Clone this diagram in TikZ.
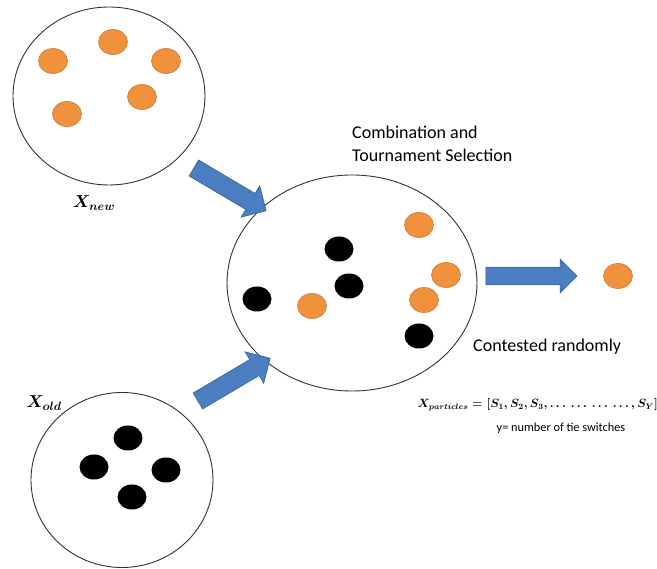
\documentclass[tikz,border=0pt]{standalone}
\usepackage{fontspec}
\setmainfont{Carlito}
\usetikzlibrary{shapes.geometric,shapes.arrows}
\definecolor{dotorange}{HTML}{F0913C}
\definecolor{dotedge}{HTML}{D07830}
\definecolor{arrblue}{HTML}{4A7EC0}
\definecolor{arredge}{HTML}{35649E}
\tikzset{
  pool/.style={ellipse, draw=black!80, line width=0.9pt, fill=white, inner sep=0pt},
  odot/.style={ellipse, fill=dotorange, draw=dotedge, line width=0.6pt, minimum width=29pt, minimum height=25pt, inner sep=0pt},
  bdot/.style={ellipse, fill=black, minimum width=29pt, minimum height=25pt, inner sep=0pt},
  blockarrow/.style={single arrow, fill=arrblue, draw=arredge, line width=0.6pt,
    inner xsep=0pt, inner ysep=9pt, single arrow head extend=9pt, single arrow tip angle=90},
  lbl/.style={font=\fontsize{18}{23}\selectfont, inner sep=0pt},
  mathlbl/.style={inner sep=0pt, font=\fontsize{17}{20}\selectfont\mathversion{bold}},
}
\begin{document}
\begin{tikzpicture}[x=1pt,y=-1pt]
\useasboundingbox (0,0) rectangle (657,569);
% pools
\node[pool, minimum width=192pt, minimum height=178pt] (new) at (109,96) {};
\node[pool, minimum width=250pt, minimum height=216pt] (mix) at (352,283) {};
\node[pool, minimum width=182pt, minimum height=175pt] (old) at (122,480) {};
% X_new dots
\node[odot] (n1) at (53,61) {};
\node[odot] (n2) at (113,42) {};
\node[odot] (n3) at (166,61) {};
\node[odot] (n4) at (142,97) {};
\node[odot] (n5) at (67,114) {};
% X_old dots
\node[bdot] (o1) at (128,438) {};
\node[bdot] (o2) at (94,467) {};
\node[bdot] (o3) at (166,470) {};
\node[bdot] (o4) at (132,497) {};
% combined dots
\node[bdot] (m1) at (339,249) {};
\node[bdot] (m2) at (349,286) {};
\node[bdot] (m3) at (257,299) {};
\node[odot] (m4) at (312,306) {};
\node[odot] (m5) at (419,225) {};
\node[odot] (m6) at (446,275) {};
\node[odot] (m7) at (424,300) {};
\node[bdot] (m8) at (419,336) {};
% selected
\node[odot] (sel) at (618,276) {};
% arrows
\node[blockarrow, minimum height=84pt, rotate=-30.6] (a1) at (226,187) {};
\node[blockarrow, minimum height=84pt, rotate=30.6] (a2) at (230,382) {};
\node[blockarrow, minimum height=91pt, inner ysep=8.5pt, single arrow head extend=8pt] (a3) at (527,276) {};
% labels
\node[mathlbl] (lnew) at (94,203) {$X_{new}$};
\node[mathlbl] (lold) at (44,403) {$X_{old}$};
\node[lbl, anchor=north west, align=left] (comb) at (352,126) {Combination and\\Tournament Selection};
\node[lbl, anchor=west] (cont) at (473,347) {Contested randomly};
\node[mathlbl, anchor=east, font=\fontsize{11.5}{14}\selectfont\mathversion{bold}] (xp) at (658,405) {$X_{particles}=[S_1,S_2,S_3,\ldots\ \ldots\ \ldots\ \ldots,S_Y]$};
\node[inner sep=0pt, font=\fontsize{12.3}{14}\selectfont] (ynote) at (561,428) {y= number of tie switches};
\end{tikzpicture}
\end{document}
